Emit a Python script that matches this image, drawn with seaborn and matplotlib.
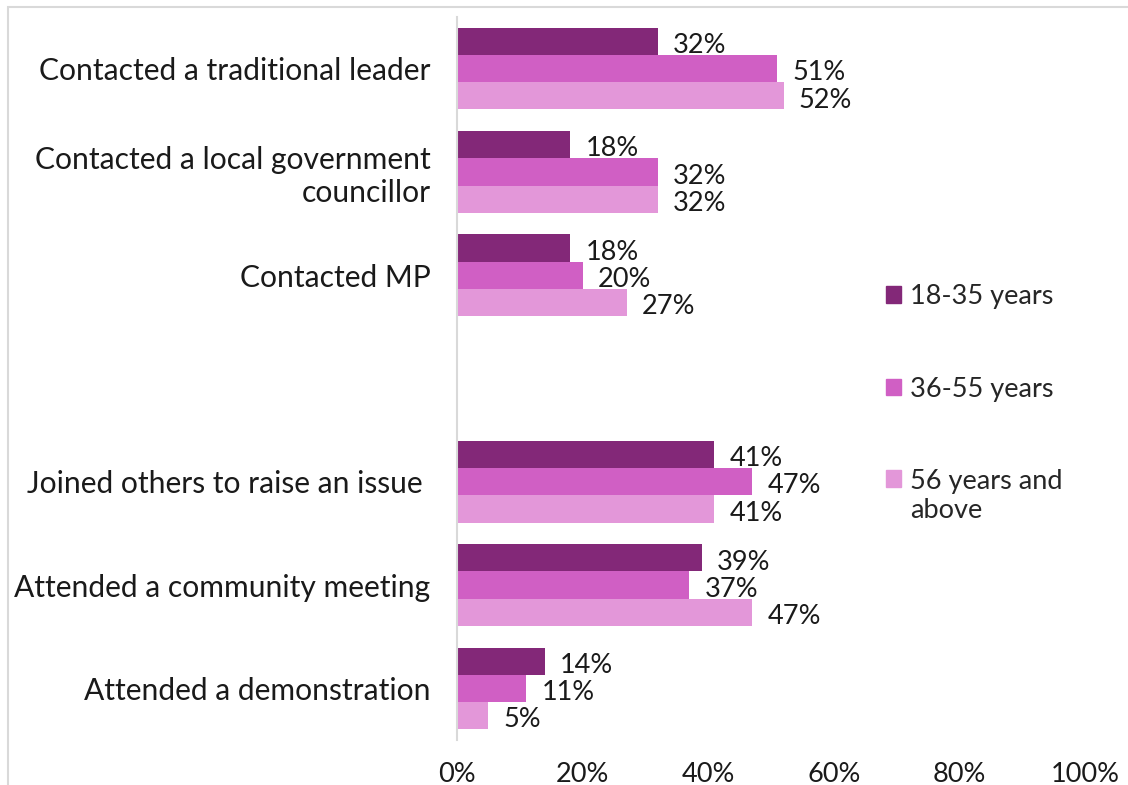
import numpy as np
import pandas as pd
import matplotlib
matplotlib.use("Agg")
import matplotlib.pyplot as plt
import seaborn as sns
from matplotlib.patches import Rectangle
from matplotlib.legend_handler import HandlerPatch

categories = ["Contacted a traditional leader",
              "Contacted a local government\ncouncillor",
              "Contacted MP",
              "",
              "Joined others to raise an issue ",
              "Attended a community meeting",
              "Attended a demonstration"]
groups = ["18-35 years", "36-55 years", "56 years and\nabove"]
young = [32, 18, 18, np.nan, 41, 39, 14]
middle = [51, 32, 20, np.nan, 47, 37, 11]
older = [52, 32, 27, np.nan, 41, 47, 5]
xticks = [0, 20, 40, 60, 80, 100]
colors = ["#832878", "#D05FC4", "#E397D9"]

rows = []
for g, vals in zip(groups, [young, middle, older]):
    for c, v in zip(categories, vals):
        rows.append({"cat": c, "group": g, "value": v})
df = pd.DataFrame(rows)

sns.set_theme(style="white")
plt.rcParams["font.family"] = ["Lato", "DejaVu Sans"]
FS = 19.5
CAT_FS = 21.6

fig = plt.figure(figsize=(11.28, 7.85), dpi=100)
ax = fig.add_axes([457/1128, 45/785, (1085-457)/1128, (768-45)/785])

sns.barplot(data=df.dropna(), y="cat", x="value", hue="group", order=categories,
            hue_order=groups, palette=colors, orient="h", width=0.79, gap=0,
            errorbar=None, linewidth=0, saturation=1, ax=ax)

for cont in ax.containers:
    for p in cont.patches:
        w = p.get_width()
        if np.isfinite(w) and w > 0:
            ax.annotate(f"{w:.0f}%", xy=(w, p.get_y() + p.get_height()/2),
                        xytext=(11, -3), textcoords="offset points",
                        ha="left", va="center", fontsize=FS, color="#1a1a1a")

ax.set_xlim(0, 100)
ax.set_xticks(xticks)
ax.set_xticklabels([f"{t}%" for t in xticks], fontsize=FS, color="#1a1a1a")
ax.tick_params(axis="x", length=0, pad=16)
ax.tick_params(axis="y", length=0, pad=19, labelsize=CAT_FS, labelcolor="#1a1a1a")
ax.set_xlabel("")
ax.set_ylabel("")
for s in ["top", "right", "bottom"]:
    ax.spines[s].set_visible(False)
ax.spines["left"].set_color("#d9d9d9")
ax.spines["left"].set_linewidth(1.5)

ax.get_legend().remove()


def shifted_patch(legend, orig_handle, xdescent, ydescent, width, height, fontsize):
    return Rectangle((-xdescent, -ydescent + 0.68 * fontsize), width, height)


handles = [Rectangle((0, 0), 1, 1, color=c) for c in colors]
fig.legend(handles, groups, loc="upper left", bbox_to_anchor=(886/1128, 1 - 284/785),
           frameon=False, fontsize=FS, labelspacing=2.5, handlelength=0.55,
           handleheight=0.55, handletextpad=0.35, borderpad=0, borderaxespad=0,
           handler_map={handles[2]: HandlerPatch(patch_func=shifted_patch)})

fig.patches.append(Rectangle((8/1128, -0.5), 2, 1.5 - 7/785, transform=fig.transFigure,
                             fill=False, edgecolor="#d9d9d9", linewidth=1.5))

fig.savefig("out.png", dpi=100)
